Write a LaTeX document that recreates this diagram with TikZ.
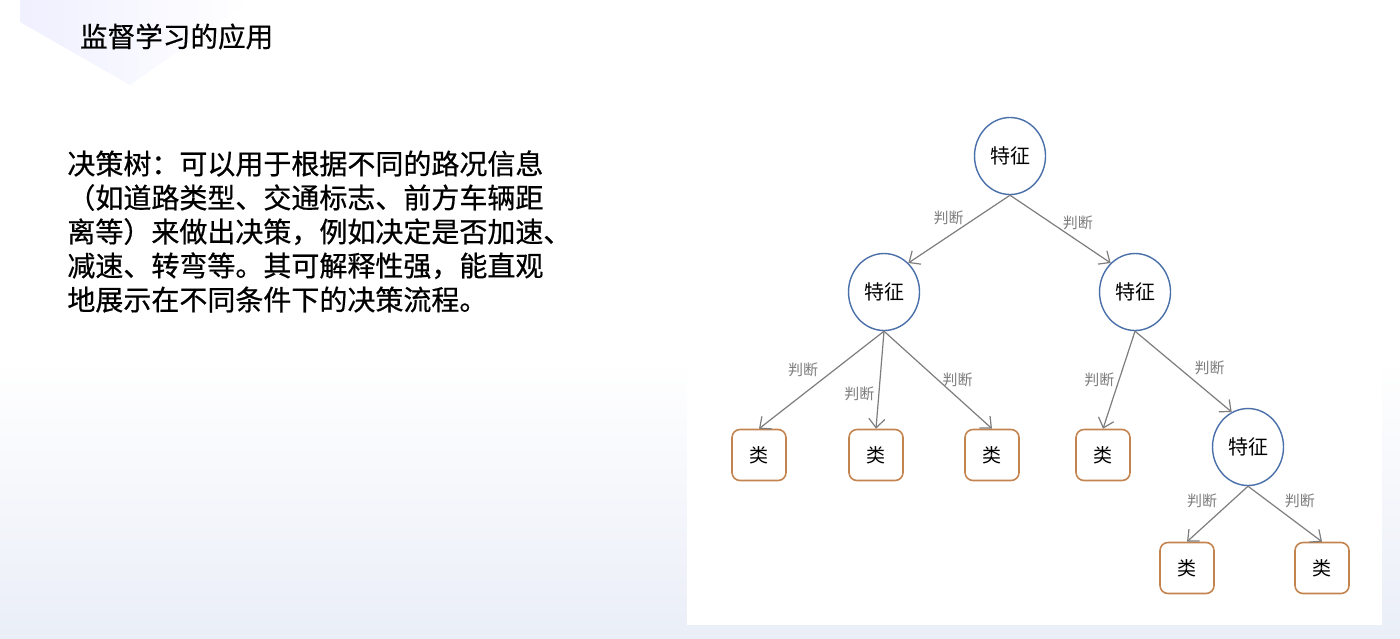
\documentclass[tikz,border=0pt]{standalone}
\usepackage{fontspec}
\setmainfont{Noto Sans CJK SC}
\newfontfamily\heavycjk[FakeBold=0.6]{Noto Sans CJK SC}
\usetikzlibrary{shapes.geometric, arrows.meta, positioning}
\definecolor{featblue}{RGB}{74,112,170}
\definecolor{leaforange}{RGB}{196,132,80}
\definecolor{judgegray}{RGB}{125,125,125}
\definecolor{bgblue}{RGB}{234,238,247}

\begin{document}
\begin{tikzpicture}[
  x=0.5pt, y=-0.5pt,
  feat/.style={ellipse, draw=featblue, line width=0.7pt, minimum width=35.5pt, minimum height=38.5pt, inner sep=0pt, font=\fontsize{10}{11}\selectfont},
  leaf/.style={rectangle, rounded corners=4pt, draw=leaforange, line width=0.8pt, minimum width=27pt, minimum height=25.5pt, inner sep=0pt, font=\fontsize{9.5}{11}\selectfont},
  judge/.style={draw=judgegray, line width=0.6pt, -{Straight Barb[length=4.5pt, width=8pt]}},
  lbl/.style={font=\fontsize{7.5}{8}\selectfont, text=judgegray, inner sep=0pt}
]
  \useasboundingbox (0,0) rectangle (1400,638);

  % Slide background.
  \fill[white] (0,0) rectangle (1400,638);
  \shade[top color=white, bottom color=bgblue] (0,360) rectangle (1400,638);
  \shade[left color=blue!6, right color=white] (20,0) -- (250,0) -- (130,85) -- (20,22) -- cycle;
  \fill[white] (687,80) rectangle (1382,625);

  % Title and description.
  \node[anchor=base west, font=\heavycjk\fontsize{13.8}{16}\selectfont] (title) at (73,47) {监督学习的应用};
  \node[anchor=north west, align=left, inner sep=0pt, font=\heavycjk\fontsize{14}{17}\selectfont] (desc) at (67,150)
    {决策树：可以用于根据不同的路况信息\\（如道路类型、交通标志、前方车辆距\\离等）来做出决策，例如决定是否加速、\\减速、转弯等。其可解释性强，能直观\\地展示在不同条件下的决策流程。};

  \node[feat] (root) at (1010,156) {特征};

  \node[feat] (fl) at (884,292) {特征};
  \node[feat] (fr) at (1135,292) {特征};

  \node[leaf] (c1) at (759,455) {类};
  \node[leaf] (c2) at (876,455) {类};
  \node[leaf] (c3) at (992,455) {类};
  \node[leaf] (c4) at (1103,455) {类};
  \node[feat] (fs) at (1248,447) {特征};

  \node[leaf] (c5) at (1187,568) {类};
  \node[leaf] (c6) at (1322,568) {类};

  % Splits from the root.
  \draw[judge] (root.south) -- node[lbl, pos=0.45, above left=0pt] {判断} (fl.50);
  \draw[judge] (root.south) -- node[lbl, pos=0.52, above right=0pt] {判断} (fr.130);

  % Splits from the left feature.
  \draw[judge] (fl.south) -- node[lbl, pos=0.5, above left=2pt] {判断} (c1.north);
  \draw[judge] (fl.south) -- node[lbl, pos=0.64, left=2pt] {判断} (c2.north);
  \draw[judge] (fl.south) -- node[lbl, pos=0.5, right=2pt] {判断} (c3.north);

  % Splits from the right feature.
  \draw[judge] (fr.south) -- node[lbl, pos=0.5, left=2pt] {判断} (c4.north);
  \draw[judge] (fr.south) -- node[lbl, pos=0.58, above right=2pt] {判断} (fs.115);

  % Splits from the lower feature.
  \draw[judge] (fs.south) -- node[lbl, pos=0.45, above left=2pt] {判断} (c5.north);
  \draw[judge] (fs.south) -- node[lbl, pos=0.45, above right=2pt] {判断} (c6.north);
\end{tikzpicture}
\end{document}
